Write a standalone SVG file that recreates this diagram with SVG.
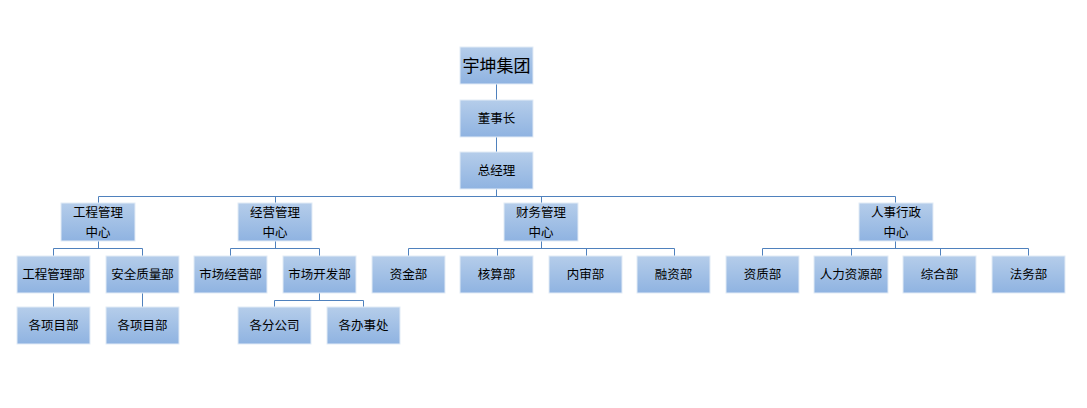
<svg xmlns="http://www.w3.org/2000/svg" width="1087" height="408" viewBox="0 0 1087 408">
<defs>
<linearGradient id="g" x1="0" y1="0" x2="0" y2="1">
<stop offset="0" stop-color="#b5cdea"/>
<stop offset="1" stop-color="#8fb3e1"/>
</linearGradient>
<style>
.b{fill:url(#g);stroke:#e2ebf6;stroke-width:1}
.t{font-family:"Noto Sans CJK SC","Noto Sans CJK JP",sans-serif;font-size:12.5px;fill:#000;text-anchor:middle}
.h{font-size:17px}
.c{fill:none;stroke:#4f81bd;stroke-width:1}
</style>
</defs>
<rect width="1087" height="408" fill="#fff"/>
<g id="connectors" class="c">
<path d="M496.5 84V100M496.5 137V152M496.5 189V196.5"/>
<path d="M98.5 196.5H895.5M98.5 196.5V203M275.5 196.5V203M541.5 196.5V203M895.5 196.5V203"/>
<path d="M98.5 241V248.5M53.5 256V248.5H142.5V256"/>
<path d="M275.5 241V248.5M230.5 256V248.5H319.5V256"/>
<path d="M541.5 241V248.5M408.5 256V248.5H674.5V256M497.5 248.5V256M586.5 248.5V256"/>
<path d="M895.5 241V248.5M762.5 256V248.5H1028.5V256M851.5 248.5V256M940.5 248.5V256"/>
<path d="M53.5 293V307M142.5 293V307"/>
<path d="M319.5 293V300.5M274.5 307V300.5H363.5V307"/>
</g>
<g id="n-group"><rect class="b" x="460" y="47" width="73" height="37"/><text class="t h" x="496.5" y="71.5">宇坤集团</text></g>
<g id="n-chairman"><rect class="b" x="460" y="100" width="73" height="37"/><text class="t" x="496.5" y="123">董事长</text></g>
<g id="n-gm"><rect class="b" x="460" y="152" width="73" height="37"/><text class="t" x="496.5" y="175">总经理</text></g>
<g id="n-eng"><rect class="b" x="61" y="203" width="74" height="38"/><text class="t" x="98" y="217">工程管理</text><text class="t" x="98" y="236.5">中心</text></g>
<g id="n-ops"><rect class="b" x="238" y="203" width="74" height="38"/><text class="t" x="275" y="217">经营管理</text><text class="t" x="275" y="236.5">中心</text></g>
<g id="n-fin"><rect class="b" x="504" y="203" width="74" height="38"/><text class="t" x="541" y="217">财务管理</text><text class="t" x="541" y="236.5">中心</text></g>
<g id="n-hr"><rect class="b" x="859" y="203" width="74" height="38"/><text class="t" x="896" y="217">人事行政</text><text class="t" x="896" y="236.5">中心</text></g>
<g id="n-engdept"><rect class="b" x="17" y="256" width="73" height="37"/><text class="t" x="53.5" y="279">工程管理部</text></g>
<g id="n-safety"><rect class="b" x="106" y="256" width="73" height="37"/><text class="t" x="142.5" y="279">安全质量部</text></g>
<g id="n-market"><rect class="b" x="194" y="256" width="73" height="37"/><text class="t" x="230.5" y="279">市场经营部</text></g>
<g id="n-dev"><rect class="b" x="283" y="256" width="73" height="37"/><text class="t" x="319.5" y="279">市场开发部</text></g>
<g id="n-fund"><rect class="b" x="372" y="256" width="73" height="37"/><text class="t" x="408.5" y="279">资金部</text></g>
<g id="n-acct"><rect class="b" x="460" y="256" width="73" height="37"/><text class="t" x="496.5" y="279">核算部</text></g>
<g id="n-audit"><rect class="b" x="549" y="256" width="73" height="37"/><text class="t" x="585.5" y="279">内审部</text></g>
<g id="n-financing"><rect class="b" x="637" y="256" width="73" height="37"/><text class="t" x="673.5" y="279">融资部</text></g>
<g id="n-qual"><rect class="b" x="726" y="256" width="73" height="37"/><text class="t" x="762.5" y="279">资质部</text></g>
<g id="n-hrdept"><rect class="b" x="814" y="256" width="74" height="37"/><text class="t" x="851" y="279">人力资源部</text></g>
<g id="n-general"><rect class="b" x="903" y="256" width="73" height="37"/><text class="t" x="939.5" y="279">综合部</text></g>
<g id="n-legal"><rect class="b" x="992" y="256" width="73" height="37"/><text class="t" x="1028.5" y="279">法务部</text></g>
<g id="n-proj1"><rect class="b" x="17" y="307" width="73" height="37"/><text class="t" x="53.5" y="330">各项目部</text></g>
<g id="n-proj2"><rect class="b" x="106" y="307" width="73" height="37"/><text class="t" x="142.5" y="330">各项目部</text></g>
<g id="n-branch"><rect class="b" x="238" y="307" width="73" height="37"/><text class="t" x="274.5" y="330">各分公司</text></g>
<g id="n-office"><rect class="b" x="327" y="307" width="73" height="37"/><text class="t" x="363.5" y="330">各办事处</text></g>
</svg>
